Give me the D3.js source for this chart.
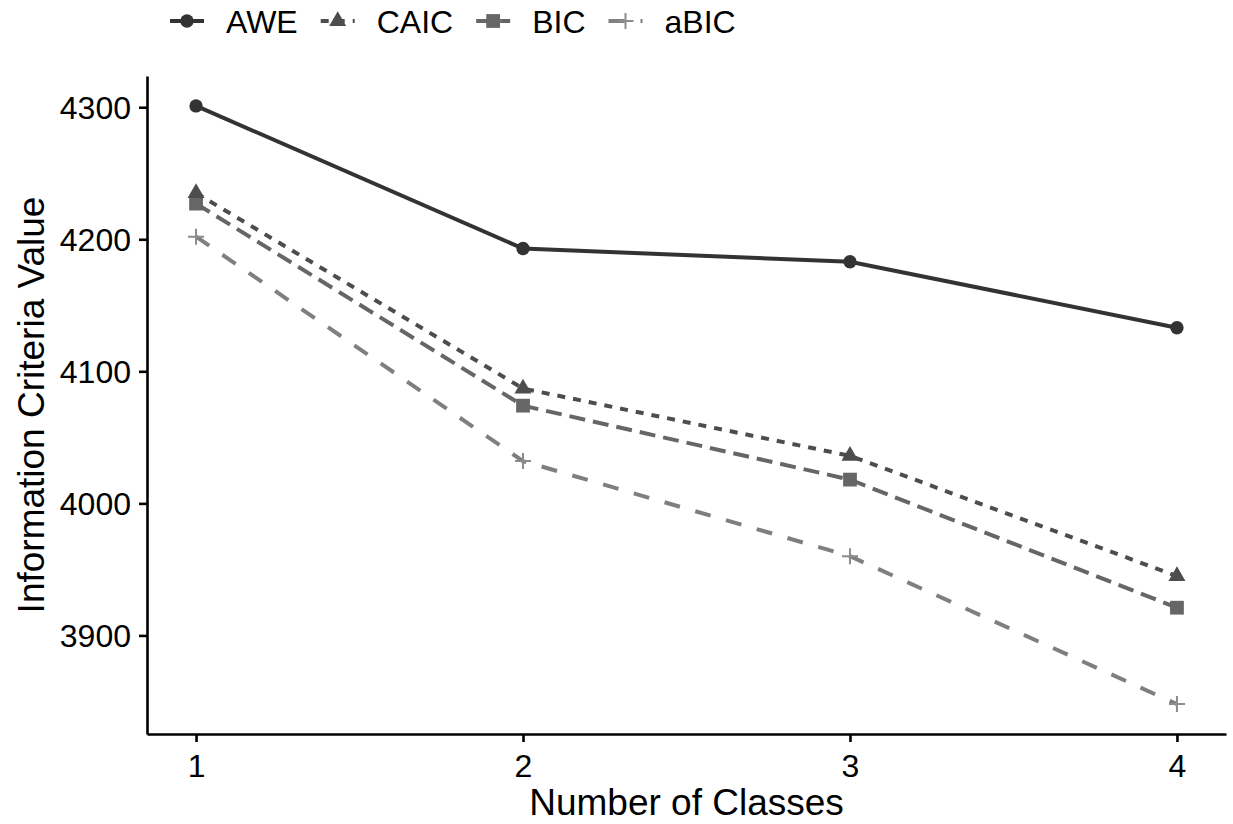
<!DOCTYPE html>
<html>
<head>
<meta charset="utf-8">
<script src="https://cdn.jsdelivr.net/npm/d3@7"></script>
<style>
  body { margin: 0; background: #fff; }
  svg { display: block; font-family: "Liberation Sans", Arial, sans-serif; }
</style>
</head>
<body>
<svg id="chart" width="1233" height="824"></svg>
<script>
// data
const classes = [1, 2, 3, 4];
const criteria = ["AWE", "CAIC", "BIC", "aBIC"];
const awe  = [4301, 4193, 4183, 4133];
const caic = [4235, 4087, 4036, 3945];
const bic  = [4227, 4074, 4018, 3921];
const abic = [4202, 4032, 3960, 3848];
const yTicks = [3900, 4000, 4100, 4200, 4300];

const seriesValues = [awe, caic, bic, abic];
const colors = ["#333333", "#4d4d4d", "#666666", "#7f7f7f"];
const dashes = [null, "8,8", "16,8", "16,16"];
const shapes = ["circle", "triangle", "square", "plus"];
const lw = 4;

const svg = d3.select("#chart");
const width = +svg.attr("width");
const height = +svg.attr("height");
const margin = {top: 76, right: 7, bottom: 90, left: 147};

const x = d3.scaleLinear()
    .domain([0.85, 4.15])
    .range([margin.left, width - margin.right]);

const allVals = seriesValues.flat();
const lo = d3.min(allVals), hi = d3.max(allVals), pad = (hi - lo) * 0.05;
const y = d3.scaleLinear()
    .domain([lo - pad, hi + pad])
    .range([height - margin.bottom, margin.top]);

// axes
const xAxis = g => g
    .attr("transform", `translate(0,${height - margin.bottom})`)
    .call(d3.axisBottom(x).tickValues(classes).tickFormat(d3.format("d")).tickSize(8).tickSizeOuter(0))
    .call(g => g.select(".domain").attr("stroke-width", 2.6).attr("stroke", "#000"))
    .call(g => g.selectAll(".tick line").attr("stroke-width", 2.6).attr("stroke", "#000"))
    .call(g => g.selectAll(".tick text").attr("font-size", 32).attr("fill", "#000").attr("dy", "1.0em"));

const yAxis = g => g
    .attr("transform", `translate(${margin.left},0)`)
    .call(d3.axisLeft(y).tickValues(yTicks).tickFormat(d3.format("d")).tickSize(8).tickSizeOuter(0).tickPadding(8))
    .call(g => g.select(".domain").attr("stroke-width", 2.6).attr("stroke", "#000"))
    .call(g => g.selectAll(".tick line").attr("stroke-width", 2.6).attr("stroke", "#000"))
    .call(g => g.selectAll(".tick text").attr("font-size", 32).attr("fill", "#000").attr("dy", "0.36em"));

svg.append("g").call(xAxis);
svg.append("g").call(yAxis);

// axis titles
svg.append("text")
    .attr("x", (margin.left + width - margin.right) / 2)
    .attr("y", 815)
    .attr("text-anchor", "middle")
    .attr("font-size", 37)
    .text("Number of Classes");

svg.append("text")
    .attr("transform", "rotate(-90)")
    .attr("x", -(margin.top + height - margin.bottom) / 2)
    .attr("y", 44)
    .attr("text-anchor", "middle")
    .attr("font-size", 37)
    .text("Information Criteria Value");

// markers
function drawShape(g, shape, color) {
    if (shape === "plus") {
        g.append("path")
            .attr("d", "M-8,0H8M0,-8V8")
            .attr("stroke", "#8c8c8c")
            .attr("stroke-width", 2)
            .attr("fill", "none");
        return;
    }
    const type = {circle: d3.symbolCircle, triangle: d3.symbolTriangle, square: d3.symbolSquare}[shape];
    const size = {circle: 140, triangle: 125, square: 190}[shape];
    g.append("path")
        .attr("d", d3.symbol().type(type).size(size)())
        .attr("fill", color);
}

const line = d3.line()
    .x((d, i) => x(classes[i]))
    .y(d => y(d));

const plot = svg.append("g");
// draw back to front so AWE sits on top
criteria.map((c, k) => k).reverse().forEach(k => {
    plot.append("path")
        .datum(seriesValues[k])
        .attr("d", line)
        .attr("fill", "none")
        .attr("stroke", colors[k])
        .attr("stroke-width", lw)
        .attr("stroke-dasharray", dashes[k]);
    seriesValues[k].forEach((v, i) => {
        const g = plot.append("g").attr("transform", `translate(${x(classes[i])},${y(v)})`);
        drawShape(g, shapes[k], colors[k]);
    });
});

// legend
const legend = svg.append("g").attr("transform", "translate(0,21)");
let cx = 187;
criteria.forEach((c, k) => {
    const item = legend.append("g").attr("transform", `translate(${cx},0)`);
    item.append("line")
        .attr("x1", -17).attr("x2", 17)
        .attr("stroke", colors[k])
        .attr("stroke-width", lw)
        .attr("stroke-dasharray", dashes[k]);
    drawShape(item, shapes[k], colors[k]);
    const t = item.append("text")
        .attr("x", 39)
        .attr("dy", "0.36em")
        .attr("font-size", 32)
        .text(c);
    cx += 39 + t.node().getComputedTextLength() + 40;
});
</script>
</body>
</html>
